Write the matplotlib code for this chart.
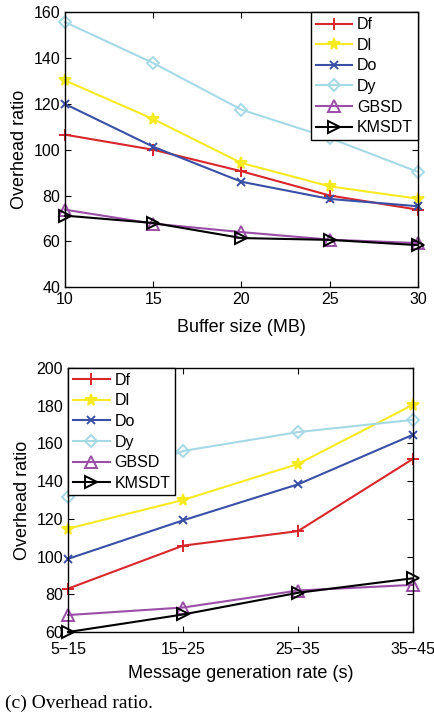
import matplotlib
matplotlib.use('Agg')
import matplotlib.pyplot as plt

plt.rcParams['font.family'] = ['Liberation Sans', 'DejaVu Sans']

series = ['Df', 'Dl', 'Do', 'Dy', 'GBSD', 'KMSDT']

buffer_size = [10, 15, 20, 25, 30]
buf_df = [106.6, 100, 90.6, 80, 73.8]
buf_dl = [130.3, 113.4, 94.2, 84, 78.6]
buf_do = [120, 101.3, 86, 78.5, 75.3]
buf_dy = [155.8, 137.9, 117.5, 105.1, 90.3]
buf_gbsd = [73.8, 67.7, 64, 60.7, 59.2]
buf_kmsdt = [71.2, 68, 61.4, 60.6, 58.3]

rate_labels = ['5\u221215', '15\u221225', '25\u221235', '35\u221245']
rate_df = [83, 105.8, 113.5, 151.8]
rate_dl = [114.8, 130, 149.1, 180.5]
rate_do = [98.8, 119.2, 138.3, 164.6]
rate_dy = [131.8, 156, 166, 172.5]
rate_gbsd = [69, 73, 82, 85]
rate_kmsdt = [60, 69.3, 80.8, 88.5]

styles = {
    'Df': dict(color='#d8262a', marker='+', mfc='none', ms=8),
    'Dl': dict(color='#f6ea21', marker='*', mfc='#f6ea21', ms=8.5),
    'Do': dict(color='#3a4fa6', marker='x', mfc='none', ms=6),
    'Dy': dict(color='#a6d9e6', marker='D', mfc='none', ms=6),
    'GBSD': dict(color='#9a4fa6', marker='^', mfc='none', ms=8),
    'KMSDT': dict(color='black', marker='>', mfc='none', ms=8),
}

fig = plt.figure(figsize=(4.35, 7.17), dpi=100)
ax1 = fig.add_axes([0.1494, 0.5997, 0.8115, 0.3829])
ax2 = fig.add_axes([0.1563, 0.1185, 0.7931, 0.3683])


def draw(ax, x, data, loc):
    for name, y in zip(series, data):
        st = dict(mew=1.4, lw=1.5)
        st.update(styles[name])
        ax.plot(x, y, label=name, **st)
    ax.tick_params(direction='in', top=True, right=True, labelsize=11.5, length=4)
    ax.set_ylabel('Overhead ratio', fontsize=13)
    leg = ax.legend(loc=loc, fancybox=False, edgecolor='black', framealpha=1,
                    fontsize=11.5, handlelength=2.3, borderpad=0.3,
                    labelspacing=0.35, handletextpad=0.3, borderaxespad=0)
    leg.get_frame().set_linewidth(1.0)


draw(ax1, buffer_size, [buf_df, buf_dl, buf_do, buf_dy, buf_gbsd, buf_kmsdt], 'upper right')
ax1.set_xlim(10, 30)
ax1.set_ylim(40, 160)
ax1.set_xticks(buffer_size)
ax1.set_yticks([40, 60, 80, 100, 120, 140, 160])
ax1.set_xlabel('Buffer size (MB)', fontsize=13, labelpad=9)

xr = list(range(len(rate_labels)))
draw(ax2, xr, [rate_df, rate_dl, rate_do, rate_dy, rate_gbsd, rate_kmsdt], 'upper left')
ax2.set_xlim(0, 3)
ax2.set_ylim(60, 200)
ax2.set_xticks(xr)
ax2.set_xticklabels(rate_labels)
ax2.tick_params(axis='x', pad=7)
ax2.set_yticks([60, 80, 100, 120, 140, 160, 180, 200])
ax2.set_xlabel('Message generation rate (s)', fontsize=13, labelpad=6)

for ax in (ax1, ax2):
    for sp in ax.spines.values():
        sp.set_linewidth(1.0)
    for line in ax.lines:
        line.set_clip_on(False)

fig.text(0.012, 0.012, '(c) Overhead ratio.', fontsize=14,
         family=['Liberation Serif', 'DejaVu Serif'])

fig.savefig('out.png', dpi=100)
